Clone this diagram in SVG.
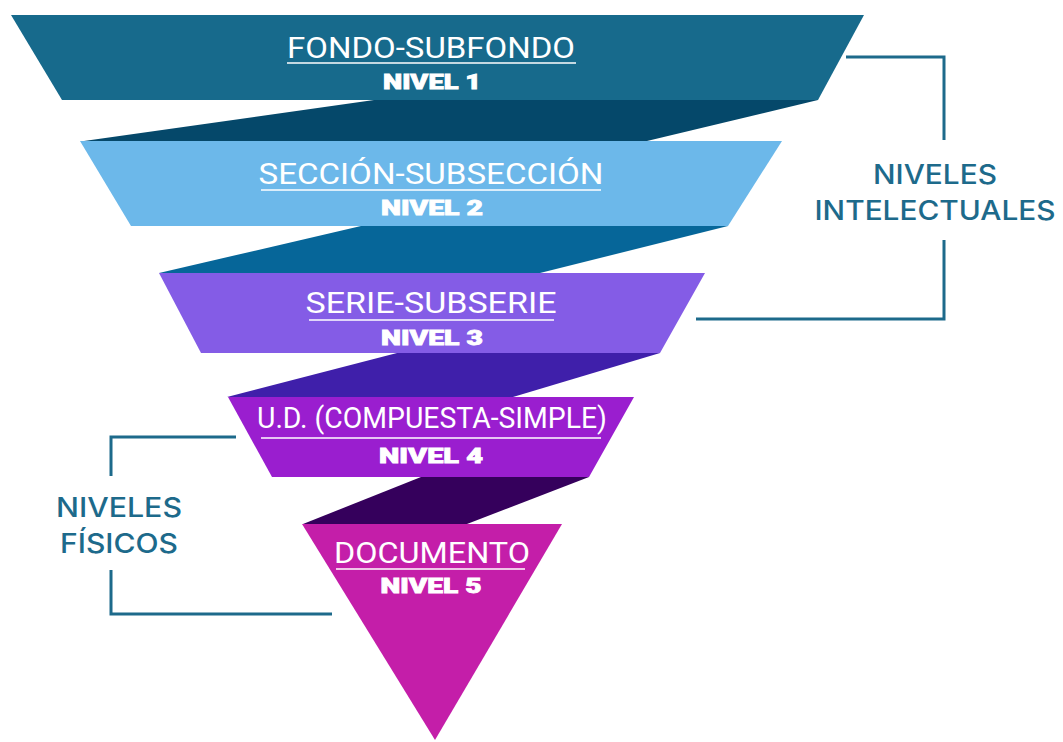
<svg xmlns="http://www.w3.org/2000/svg" width="1063" height="742" viewBox="0 0 1063 742">
<style>
.t{font-family:Roboto,"Liberation Sans",sans-serif;fill:#ffffff;font-size:29px;text-anchor:middle}
.n{font-family:Roboto,"Liberation Sans",sans-serif;fill:#ffffff;font-size:21px;font-weight:900;text-anchor:middle;stroke:#ffffff;stroke-width:0.8}
.u{stroke:#ffffff;stroke-opacity:0.75;stroke-width:2}
.lab{font-family:Inter,Roboto,"Liberation Sans",sans-serif;fill:#1d6a8b;font-size:27px;font-weight:500;text-anchor:middle}
.br{fill:none;stroke:#1d6a8b;stroke-width:3}
</style>
<rect width="1063" height="742" fill="#ffffff"/>
<g id="connectors">
<polygon points="374,100 818,100 647,141 84,141" fill="#05486a"/>
<polygon points="361,226 728,226 540,273 159,273" fill="#066699"/>
<polygon points="397,353 660,353 513,397 227,397" fill="#3f1faa"/>
<polygon points="421,477 589,477 467,524 303,524" fill="#35005c"/>
</g>
<g id="nivel1">
<polygon points="11,15 864,15 818,100 62,100" fill="#176a8c"/>
<text class="t" x="431" y="58" textLength="288" lengthAdjust="spacingAndGlyphs">FONDO-SUBFONDO</text>
<line class="u" x1="287" y1="63" x2="576" y2="63"/>
<text class="n" x="432" y="89" textLength="98" lengthAdjust="spacingAndGlyphs">NIVEL 1</text>
</g>
<g id="nivel2">
<polygon points="80,141 782,141 728,226 131,226" fill="#6cb8ea"/>
<text class="t" x="431" y="184" textLength="345" lengthAdjust="spacingAndGlyphs">SECCIÓN-SUBSECCIÓN</text>
<line class="u" x1="261" y1="190" x2="601" y2="190"/>
<text class="n" x="432" y="215" textLength="102" lengthAdjust="spacingAndGlyphs">NIVEL 2</text>
</g>
<g id="nivel3">
<polygon points="159,273 705,273 660,353 201,353" fill="#845ce6"/>
<text class="t" x="431" y="313" textLength="251" lengthAdjust="spacingAndGlyphs">SERIE-SUBSERIE</text>
<line class="u" x1="309" y1="320" x2="554" y2="320"/>
<text class="n" x="432" y="345" textLength="102" lengthAdjust="spacingAndGlyphs">NIVEL 3</text>
</g>
<g id="nivel4">
<polygon points="228,397 634,397 589,477 272,477" fill="#9a1ecf"/>
<text class="t" x="432" y="428" textLength="350" lengthAdjust="spacingAndGlyphs">U.D. (COMPUESTA-SIMPLE)</text>
<line class="u" x1="261" y1="438" x2="601" y2="438"/>
<text class="n" x="431" y="463" textLength="104" lengthAdjust="spacingAndGlyphs">NIVEL 4</text>
</g>
<g id="nivel5">
<polygon points="302,524 562,524 435,740" fill="#c41ea9"/>
<text class="t" x="432" y="563" textLength="196" lengthAdjust="spacingAndGlyphs">DOCUMENTO</text>
<line class="u" x1="336" y1="569" x2="525" y2="569"/>
<text class="n" x="431" y="593" textLength="101" lengthAdjust="spacingAndGlyphs">NIVEL 5</text>
</g>
<g id="niveles-intelectuales">
<polyline class="br" points="846,57 944,57 944,140"/>
<polyline class="br" points="944,240 944,319 696,319"/>
<text class="lab" x="935" y="184" textLength="124" lengthAdjust="spacingAndGlyphs">NIVELES</text>
<text class="lab" x="935" y="220" textLength="241" lengthAdjust="spacingAndGlyphs">INTELECTUALES</text>
</g>
<g id="niveles-fisicos">
<polyline class="br" points="236,437 111,437 111,476"/>
<polyline class="br" points="111,570 111,614 332,614"/>
<text class="lab" x="119" y="517" textLength="126" lengthAdjust="spacingAndGlyphs">NIVELES</text>
<text class="lab" x="119" y="553" textLength="118" lengthAdjust="spacingAndGlyphs">FÍSICOS</text>
</g>
</svg>
